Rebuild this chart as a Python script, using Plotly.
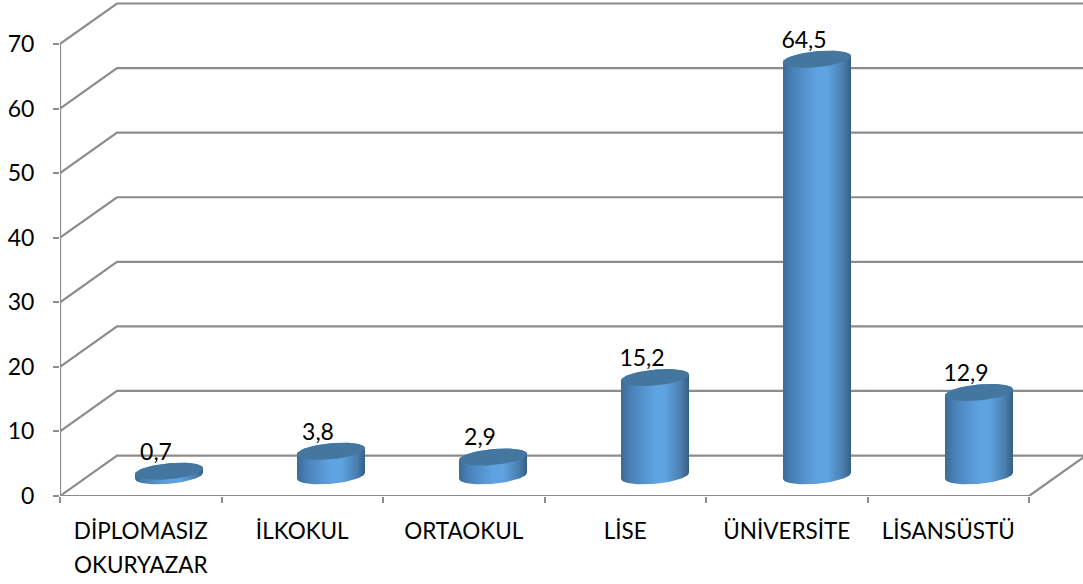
import numpy as np
import plotly.graph_objects as go

# values
categories = ["DİPLOMASIZ", "İLKOKUL", "ORTAOKUL", "LİSE", "ÜNİVERSİTE", "LİSANSÜSTÜ"]
second_line = "OKURYAZAR"
values = [0.7, 3.8, 2.9, 15.2, 64.5, 12.9]
value_labels = ["0,7", "3,8", "2,9", "15,2", "64,5", "12,9"]
y_ticks = [0, 10, 20, 30, 40, 50, 60, 70]

# ---------- fake 3D geometry (Excel cylinder look) ----------
W, H = 1083, 584
X0, X1 = 60, 1029      # front axis, pixels
Y0, Y70 = 496.5, 44    # value 0 and 70, pixels
PX_X = (X1 - X0) / len(categories)
PX_Y = (Y0 - Y70) / 70
DEPTH_X = 57 / PX_X    # wall offset in axis units
DEPTH_Y = 40.5 / PX_Y
X_MAX = (W - X0) / PX_X
Y_MAX = Y0 / PX_Y

GRID = "#8c8c8c"
FONT = "Lato"
BODY_SCALE = [[0, "#3a6b99"], [0.15, "#4a82b8"], [0.5, "#5fa3e2"], [0.65, "#5fa3e2"],
              [0.88, "#4a7fad"], [1, "#355f85"]]
TOP_COLOR = "#44779f"

A = 34 / PX_X     # ellipse half width
B = 8 / PX_Y      # ellipse half height
TILT = 3 / PX_Y   # right side sits higher
CX_FIRST = 109 / PX_X   # first cylinder centre
CX_PITCH = 162 / PX_X   # cylinder spacing is a touch wider than the axis


def ellipse(cx, cy, t):
    return cx + A * np.cos(t), cy + B * np.sin(t) + TILT * np.cos(t)


fig = go.Figure()


def add_line(xs, ys, width=2.2):
    fig.add_trace(go.Scatter(x=xs, y=ys, mode="lines", line=dict(color=GRID, width=width),
                             hoverinfo="skip", showlegend=False))


# back wall grid and the slanted side wall lines
for v in y_ticks:
    add_line([0, DEPTH_X, X_MAX + DEPTH_X], [v, v + DEPTH_Y, v + DEPTH_Y])
add_line([0, 0], [0, 70])
add_line([0, 6, 6 + DEPTH_X], [0, 0, DEPTH_Y])

# cylinders
centres = [CX_FIRST + i * CX_PITCH for i in range(len(values))]
for cx, v in zip(centres, values):
    base = DEPTH_Y / 2
    top = base + v
    t_front = np.linspace(np.pi, 2 * np.pi, 40)
    t_back = np.linspace(0, np.pi, 40)
    bx, by = ellipse(cx, base, t_front)
    tx, ty = ellipse(cx, top, t_back)
    fig.add_trace(go.Scatter(x=np.r_[bx, tx], y=np.r_[by, ty], mode="lines", fill="toself",
                             line=dict(width=0),
                             fillgradient=dict(type="horizontal", colorscale=BODY_SCALE),
                             hoverinfo="skip", showlegend=False))
    ex, ey = ellipse(cx, top, np.linspace(0, 2 * np.pi, 80))
    fig.add_trace(go.Scatter(x=ex, y=ey, mode="lines", fill="toself", fillcolor=TOP_COLOR,
                             line=dict(width=0), hoverinfo="skip", showlegend=False))

# data labels
fig.add_trace(go.Scatter(
    x=[cx - 13 / PX_X for cx in centres],
    y=[v + DEPTH_Y / 2 + 0.9 for v in values],
    mode="text", text=value_labels, textposition="top center",
    textfont=dict(family=FONT, size=23, color="#000000"),
    hoverinfo="skip", showlegend=False,
))

# the reference has looser line spacing than a <br> would give
fig.add_annotation(x=0.5, y=0, xref="x", yref="y", yshift=-68.5, text=second_line, showarrow=False,
                   font=dict(family=FONT, size=22.5, color="#000000"))

fig.update_layout(
    width=W, height=H, autosize=False,
    margin=dict(l=X0, r=0, t=0, b=H - Y0, pad=0),
    paper_bgcolor="white", plot_bgcolor="white",
    font=dict(family=FONT, size=23, color="#000000"),
    showlegend=False,
)
fig.update_xaxes(
    range=[0, X_MAX], showgrid=False, zeroline=False, showline=False,
    tickmode="array", tickvals=[i + 0.5 for i in range(len(categories))], ticktext=categories,
    tickfont=dict(family=FONT, size=22.5), ticks="", ticklabelstandoff=19,
    minor=dict(tickmode="array", tickvals=list(range(len(categories) + 1)),
               ticks="outside", ticklen=6, tickcolor=GRID, tickwidth=1.5),
)
fig.update_yaxes(
    range=[0, Y_MAX], showgrid=False, zeroline=False, showline=False,
    tickmode="array", tickvals=y_ticks, ticks="outside", ticklen=6,
    tickcolor=GRID, tickwidth=2, ticklabelstandoff=14,
)

# page default has an 8px body margin
fig.write_html("out.html", config=dict(displayModeBar=False),
               post_script="document.body.style.margin='0';document.body.style.overflow='hidden';")
